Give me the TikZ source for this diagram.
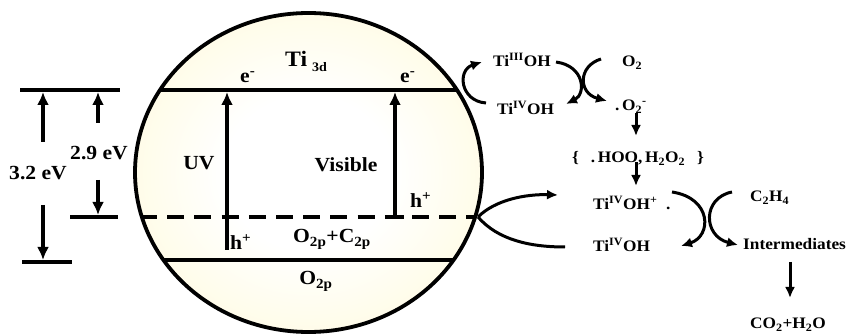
\documentclass[tikz,border=0pt]{standalone}
\usepackage{fontspec}
\setmainfont{Liberation Serif}[FakeStretch=1.08]
\usetikzlibrary{arrows.meta}
\definecolor{pyel}{RGB}{255,247,190}
\pgfdeclareradialshading{ballshade}{\pgfpoint{0bp}{0bp}}{color(0bp)=(white); color(12bp)=(white); color(50bp)=(pyel)}
\begin{document}
\begin{tikzpicture}[x=1pt,y=-1pt,
  lbl/.style={font=\fontsize{20}{22}\selectfont\bfseries, inner sep=0pt},
  sml/.style={font=\fontsize{16}{18}\selectfont\bfseries, inner sep=0pt},
  lvl/.style={line width=3.6pt},
  arr/.style={line width=3.6pt, -{Latex[length=13pt,width=12pt]}},
  carr/.style={line width=3pt, -{Latex[length=11pt,width=10pt]}},
  plain/.style={line width=3pt}]
\useasboundingbox (0,0) rectangle (849,336);

% ---- left energy scale
\draw[lvl] (20,90) -- (120,90);
\draw[lvl] (70,217) -- (118,217);
\draw[lvl] (22,262) -- (72,262);
\coordinate (a1s) at (43,142); \coordinate (a1e) at (43,92);
\coordinate (a2s) at (43,205); \coordinate (a2e) at (43,260);
\coordinate (b1s) at (98,123); \coordinate (b1e) at (98,92);
\coordinate (b2s) at (98,180); \coordinate (b2e) at (98,215);
\draw[arr] (a1s) -- (a1e);
\draw[arr] (a2s) -- (a2e);
\draw[arr] (b1s) -- (b1e);
\draw[arr] (b2s) -- (b2e);
\node[lbl, anchor=base] (e32) at (38,180) {3.2 eV};
\node[lbl, anchor=base] (e29) at (99,160) {2.9 eV};

% ---- particle
\coordinate (c) at (308.5,172.5);
\shade[shading=ballshade] (c) ellipse [x radius=173.5, y radius=159.5];
\begin{scope}
  \clip (c) ellipse [x radius=173.5, y radius=159.5];
  \draw[lvl] (100,90) -- (520,90);
  \draw[lvl] (100,260) -- (520,260);
  \draw[line width=3.8pt, dash pattern=on 17pt off 10.2pt] (140,217) -- (480,217);
\end{scope}
\draw[line width=3.8pt] (c) ellipse [x radius=173.5, y radius=159.5];

\coordinate (uvs) at (227,250); \coordinate (uve) at (227,92);
\coordinate (vis) at (395,217); \coordinate (vie) at (395,92);
\draw[arr] (uvs) -- (uve);
\draw[arr] (vis) -- (vie);
\draw[line width=3.8pt] (386,217) -- (404,217);

\node[lbl, anchor=base west, font=\fontsize{22}{24}\selectfont\bfseries] (ti) at (285,67) {Ti\hspace{5pt}{\fontsize{13}{13}\selectfont\raisebox{-5pt}{3d}}};
\node[lbl, anchor=base west] (el) at (240,83) {e\textsuperscript{-}};
\node[lbl, anchor=base west] (er) at (400,83) {e\textsuperscript{-}};
\node[lbl, anchor=base] (uv) at (199,170) {UV};
\node[lbl, anchor=base] (visible) at (346,172) {Visible};
\node[lbl, anchor=base west] (hl) at (230,250) {h\textsuperscript{+}};
\node[lbl, anchor=base west] (hr) at (410,208) {h\textsuperscript{+}};
\node[lbl, anchor=base] (oc) at (332,243) {O\textsubscript{2p}+C\textsubscript{2p}};
\node[lbl, anchor=base] (o2p) at (316,285) {O\textsubscript{2p}};

% ---- reactions
\node[sml, anchor=base west] (t3) at (493,67) {Ti\textsuperscript{III}OH};
\node[sml, anchor=base west] (t4) at (497,115) {Ti\textsuperscript{IV}OH};
\node[sml, anchor=base west] (o2) at (622,67) {O\textsubscript{2}};
\node[sml, anchor=base west] (o2m) at (615,111) {.\,O\textsubscript{2}\textsuperscript{-}};
\node[sml, anchor=base] (hoo) at (638,163) {\{\hspace{12pt}.\,HOO,\,H\textsubscript{2}O\textsubscript{2}\hspace{12pt}\}};
\node[sml, anchor=base west] (t4p) at (593,210) {Ti\textsuperscript{IV}OH\textsuperscript{+}\ \ .};
\node[sml, anchor=base west] (t4b) at (593,252) {Ti\textsuperscript{IV}OH};
\node[sml, anchor=base west] (c2h4) at (750,202) {C\textsubscript{2}H\textsubscript{4}};
\node[sml, anchor=base west] (inter) at (743,250) {Intermediates};
\node[sml, anchor=base] (co2) at (788,329) {CO\textsubscript{2}+H\textsubscript{2}O};

\coordinate (lp1) at (486,103); \coordinate (lp2) at (482,62);
\draw[carr] (lp1) .. controls (460,101) and (457,70) .. (lp2);
\coordinate (x1s) at (556,62); \coordinate (x1e) at (566,104);
\draw[carr] (x1s) .. controls (585,66) and (586,94) .. (x1e);
\coordinate (x2s) at (601,59); \coordinate (x2e) at (607,101);
\draw[carr] (x2s) .. controls (578,66) and (578,93) .. (x2e);

\coordinate (d1s) at (636,113); \coordinate (d1e) at (636,136);
\draw[carr] (d1s) -- (d1e);
\coordinate (d2s) at (636,162); \coordinate (d2e) at (636,186);
\draw[carr] (d2s) -- (d2e);

\coordinate (edge) at (478,217);
\coordinate (up) at (558,195); \coordinate (dn) at (565,247);
\draw[carr] (edge) .. controls (495,200) and (525,194) .. (up);
\draw[plain] (edge) .. controls (498,240) and (530,247) .. (dn);

\coordinate (y1s) at (672,192); \coordinate (y1e) at (681,246);
\draw[carr] (y1s) .. controls (712,198) and (712,236) .. (y1e);
\coordinate (y2s) at (732,192); \coordinate (y2e) at (738,245);
\draw[carr] (y2s) .. controls (702,198) and (703,236) .. (y2e);

\coordinate (z1s) at (790,262); \coordinate (z1e) at (790,298);
\draw[carr] (z1s) -- (z1e);
\end{tikzpicture}
\end{document}
